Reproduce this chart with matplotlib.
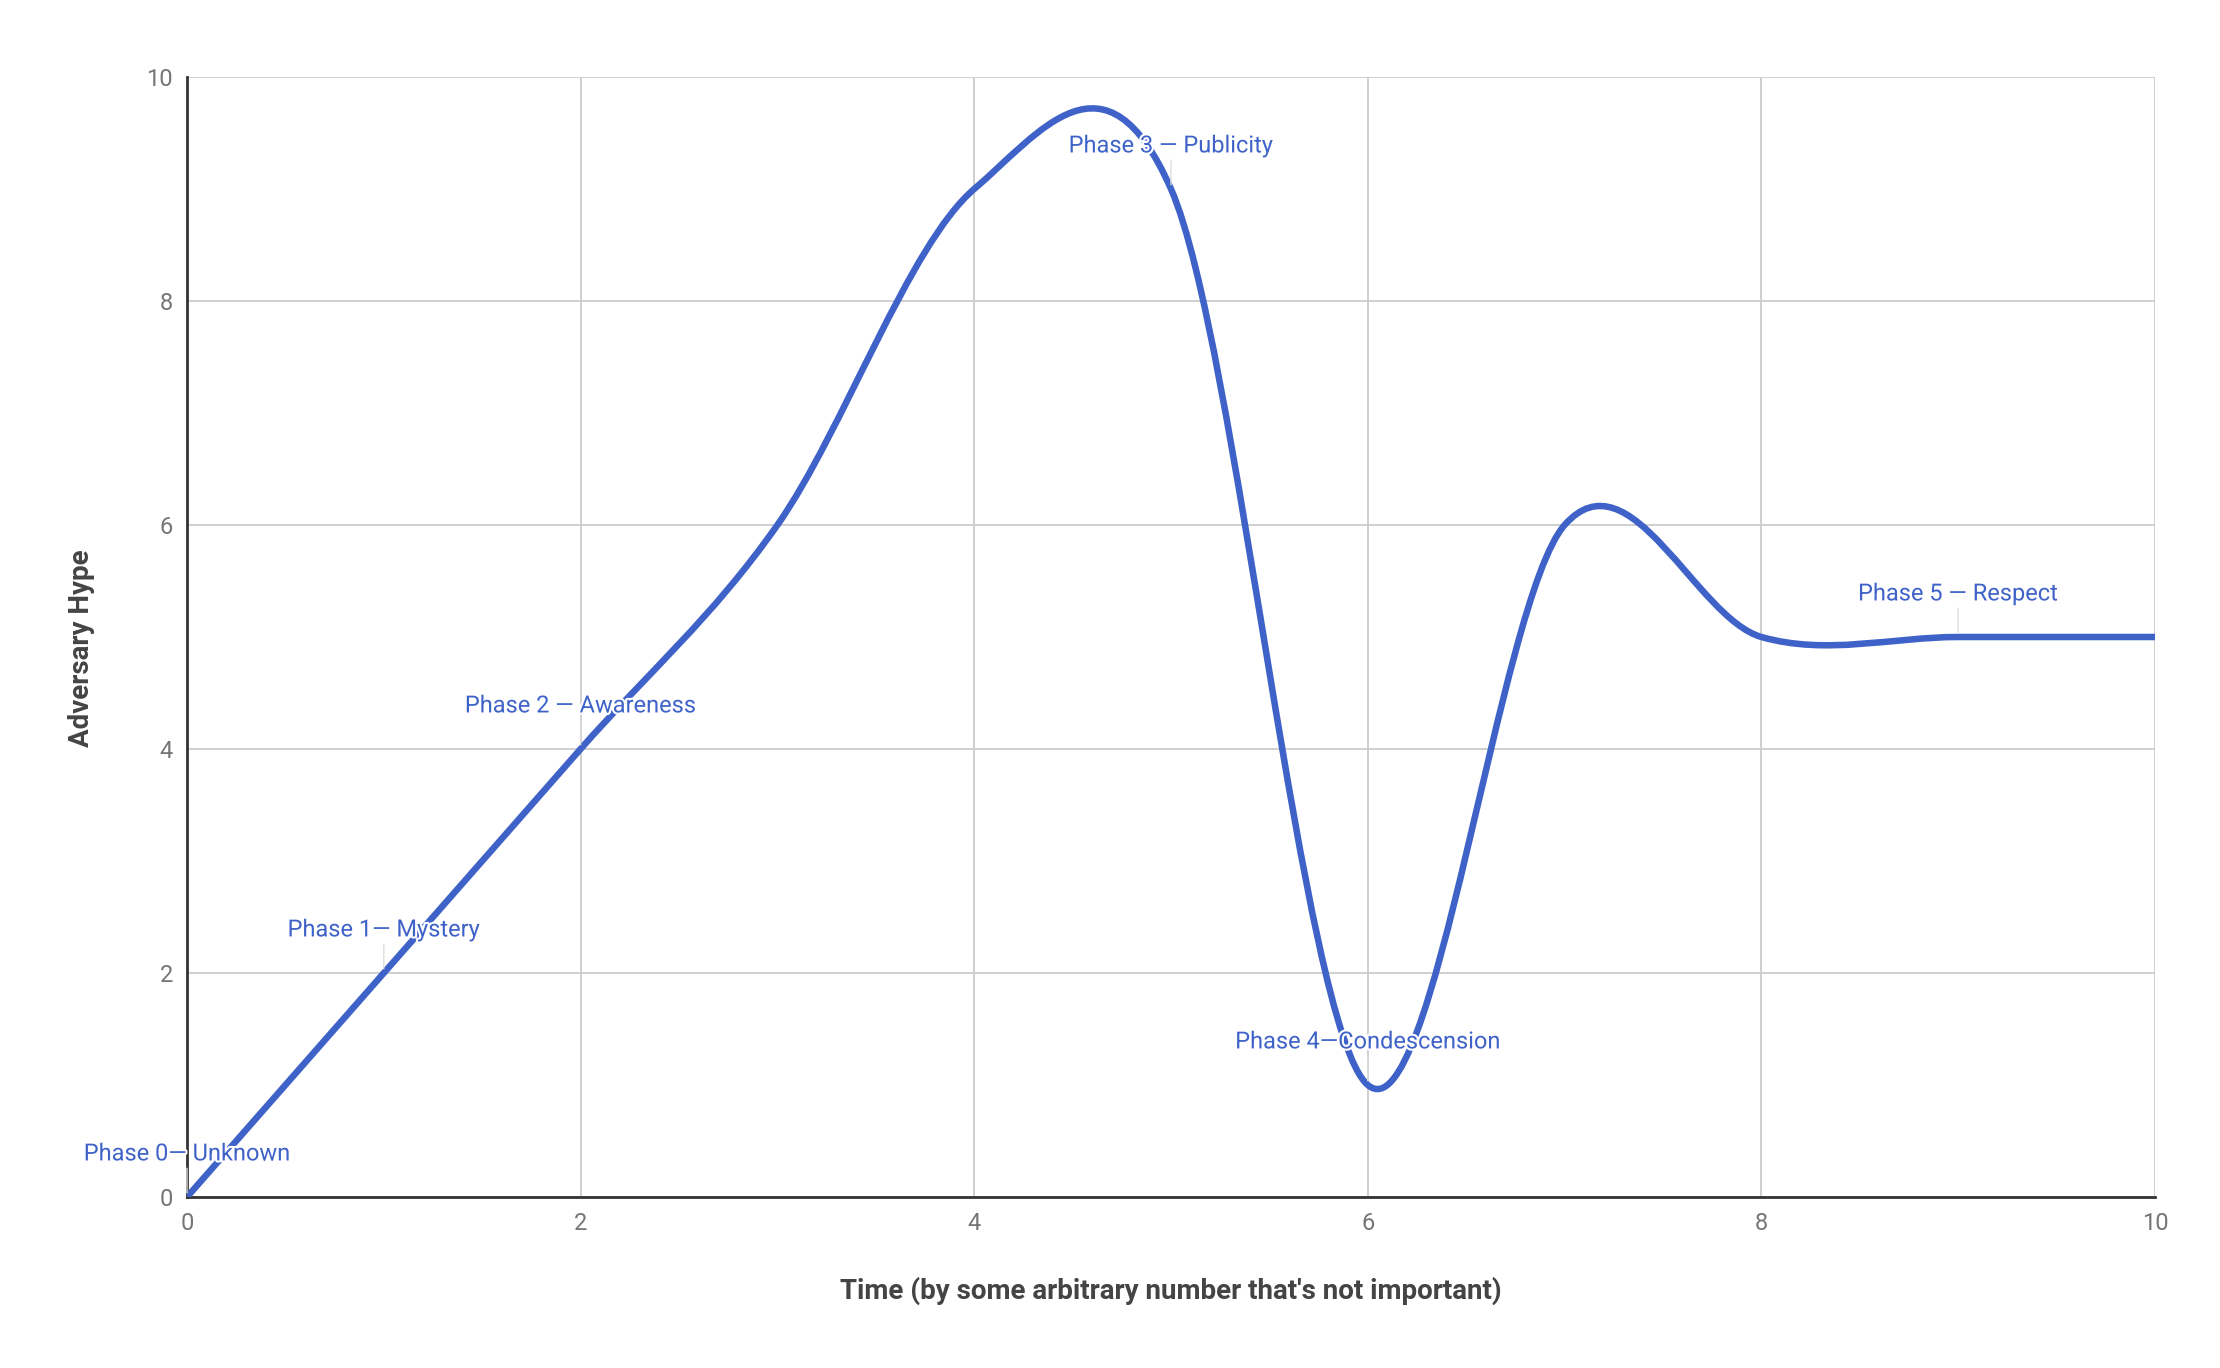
import numpy as np
import matplotlib.pyplot as plt
from matplotlib.path import Path
from matplotlib.patches import PathPatch
import matplotlib.patheffects as pe

# Data points (Google Sheets style smoothed line)
time_pts = [0, 1, 2, 3, 4, 5, 6, 7, 8, 9, 10]
hype_pts = [0, 2, 4, 6, 9, 9, 1, 6, 5, 5, 5]

# Phase annotations: (x index, text)
phase_x = [0, 1, 2, 5, 6, 9]
phase_text = ["Phase 0\u2014 Unknown", "Phase 1\u2014 Mystery", "Phase 2 \u2014 Awareness",
              "Phase 3 \u2014 Publicity", "Phase 4\u2014Condescension", "Phase 5 \u2014 Respect"]

line_color = '#3e62c8'
plt.rcParams['font.family'] = ['Roboto', 'DejaVu Sans']

fig = plt.figure(figsize=(22.2, 13.68), dpi=100)
ax = fig.add_axes([187 / 2220, 1 - 1197 / 1368, (2155 - 187) / 2220, (1197 - 77) / 1368])

# Catmull-Rom style bezier control points (like curveType 'function')
pts = np.column_stack([time_pts, hype_pts]).astype(float)
n = len(pts)
verts = [tuple(pts[0])]
codes = [Path.MOVETO]
for i in range(n - 1):
    p_prev = pts[max(i - 1, 0)]
    p0 = pts[i]
    p1 = pts[i + 1]
    p_next = pts[min(i + 2, n - 1)]
    c1 = p0 + (p1 - p_prev) / 6.0
    c2 = p1 - (p_next - p0) / 6.0
    verts += [tuple(c1), tuple(c2), tuple(p1)]
    codes += [Path.CURVE4, Path.CURVE4, Path.CURVE4]
curve = PathPatch(Path(verts, codes), facecolor='none', edgecolor=line_color,
                  lw=4.7, capstyle='round', joinstyle='round', zorder=3)
ax.add_patch(curve)

ax.set_xlim(0, 10)
ax.set_ylim(0, 10)
ax.set_xticks(range(0, 11, 2))
ax.set_yticks(range(0, 11, 2))
ax.grid(True, color='#cccccc', lw=1.3, zorder=0)
ax.set_axisbelow(True)
for s in ['top', 'right']:
    ax.spines[s].set_visible(False)
for s in ['left', 'bottom']:
    ax.spines[s].set_color('#333333')
    ax.spines[s].set_linewidth(2)
    ax.spines[s].set_zorder(2)
ax.tick_params(length=0, labelsize=17, labelcolor='#757575')
ax.tick_params(axis='y', pad=10)
ax.tick_params(axis='x', pad=11)

ax.set_xlabel("Time (by some arbitrary number that's not important)", fontsize=20,
              fontweight='bold', color='#444444', labelpad=30)
ax.set_ylabel("Adversary Hype", fontsize=20, fontweight='bold', color='#444444')
ax.yaxis.set_label_coords(-0.0498, 0.49)
ax.yaxis.label.set_va('baseline')

for xi, txt in zip(phase_x, phase_text):
    yi = hype_pts[time_pts.index(xi)]
    ax.annotate(txt, xy=(xi, yi), xytext=(0, 31), textcoords='offset points',
                ha='center', va='center', fontsize=17, color=line_color, zorder=5,
                annotation_clip=False,
                path_effects=[pe.withStroke(linewidth=3, foreground='white')],
                arrowprops=dict(arrowstyle='-', color='#dddddd', lw=1,
                                shrinkA=0, shrinkB=3, relpos=(0.5, 0)))

fig.savefig('out.png', dpi=100, facecolor='white')
